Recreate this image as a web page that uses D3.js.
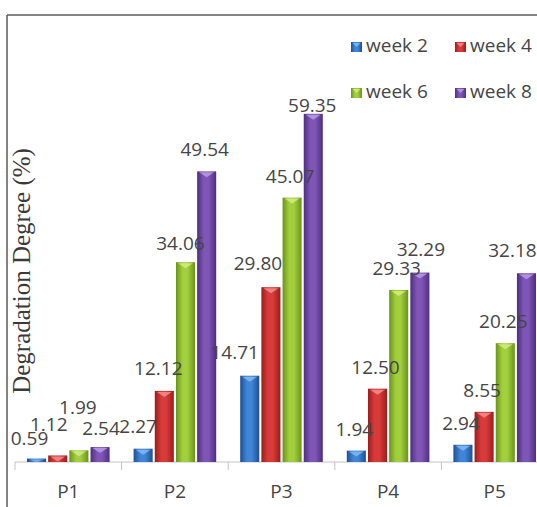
<!DOCTYPE html>
<html>
<head>
<meta charset="utf-8">
<script src="https://cdn.jsdelivr.net/npm/d3@7/dist/d3.min.js"></script>
<style>
  html, body { margin: 0; padding: 0; background: #fff; }
  svg { display: block; }
</style>
</head>
<body>
<svg id="chart" width="537" height="507"></svg>
<script>
// Degradation degree per sample, by week
const categories = ["P1", "P2", "P3", "P4", "P5"];
const seriesNames = ["week 2", "week 4", "week 6", "week 8"];
const week2 = [0.59, 2.27, 14.71, 1.94, 2.94];
const week4 = [1.12, 12.12, 29.80, 12.50, 8.55];
const week6 = [1.99, 34.06, 45.07, 29.33, 20.25];
const week8 = [2.54, 49.54, 59.35, 32.29, 32.18];
const seriesValues = [week2, week4, week6, week8];
const yTitle = "Degradation Degree (%)";

// bar shading: [edge, centre, bevel]
const palette = [
  ["#1e4f96", "#3f86d6", "#8fc0f2"],
  ["#9c1c1c", "#d83c3a", "#f59a9a"],
  ["#6a9418", "#a2cf3e", "#d9f08f"],
  ["#4e2f80", "#7f55b6", "#c2a6ea"]
];

const svg = d3.select("#chart");
const W = 537, H = 507;
const font = "'Open Sans', sans-serif";
const textColor = "#454545";

const x0 = d3.scaleBand().domain(categories).range([15, 548]).paddingInner(0).paddingOuter(0);
const x1 = d3.scaleBand().domain(seriesNames).range([12, x0.bandwidth() - 12]).paddingInner(0.1);
const y = d3.scaleLinear().domain([0, 60]).range([462, 110]);

// gradients
const defs = svg.append("defs");
palette.forEach((c, i) => {
  const g = defs.append("linearGradient").attr("id", "grad" + i)
    .attr("x1", "0%").attr("x2", "100%").attr("y1", "0%").attr("y2", "0%");
  g.append("stop").attr("offset", "0%").attr("stop-color", c[0]);
  g.append("stop").attr("offset", "35%").attr("stop-color", c[1]);
  g.append("stop").attr("offset", "60%").attr("stop-color", c[1]);
  g.append("stop").attr("offset", "100%").attr("stop-color", c[0]);
});

// frame
svg.append("line").attr("x1", 7).attr("x2", 7).attr("y1", 15).attr("y2", H)
  .attr("stroke", "#5a5a5a").attr("stroke-width", 1.5);
svg.append("line").attr("x1", 7).attr("x2", W).attr("y1", 15).attr("y2", 15)
  .attr("stroke", "#5a5a5a").attr("stroke-width", 1.5);

// category axis
const xAxis = d3.axisBottom(x0).tickSize(0).tickPadding(0);
const axisG = svg.append("g").attr("transform", `translate(0,${y(0)})`).call(xAxis);
axisG.select(".domain").remove();
axisG.selectAll(".tick text").remove();
axisG.append("line").attr("x1", x0.range()[0]).attr("x2", W).attr("y1", 0).attr("y2", 0)
  .attr("stroke", "#c4c4c4").attr("stroke-width", 1);
const edges = categories.map(c => x0(c)).concat([x0.range()[1]]);
axisG.selectAll(".edge").data(edges).enter().append("line")
  .attr("class", "edge")
  .attr("x1", d => d).attr("x2", d => d).attr("y1", 0).attr("y2", 8)
  .attr("stroke", "#c4c4c4").attr("stroke-width", 1);
svg.append("g").selectAll("text").data(categories).enter().append("text")
  .attr("x", d => x0(d) + x0.bandwidth() / 2)
  .attr("y", 498)
  .attr("text-anchor", "middle")
  .attr("font-family", font).attr("font-size", 19)
  .attr("fill", textColor)
  .text(d => d);

// bars
const barData = [];
categories.forEach((c, ci) => {
  seriesNames.forEach((s, si) => {
    barData.push({ cat: c, series: s, si: si, value: seriesValues[si][ci] });
  });
});

const bars = svg.append("g");
barData.forEach(d => {
  const bx = x0(d.cat) + x1(d.series);
  const bw = x1.bandwidth();
  const top = y(d.value);
  const h = y(0) - top;
  const g = bars.append("g");
  g.append("rect").attr("x", bx).attr("y", top).attr("width", bw).attr("height", h)
    .attr("fill", `url(#grad${d.si})`);
  const bev = Math.min(6, h);
  g.append("path")
    .attr("d", `M${bx + 2},${top + 1} L${bx + bw - 2},${top + 1} L${bx + bw / 2},${top + bev} Z`)
    .attr("fill", palette[d.si][2]).attr("opacity", 0.75);
});

// value labels (nudged where neighbours would collide)
const labelNudge = {
  "P1|week 2": [-5, -1], "P1|week 4": [-7, 9], "P1|week 6": [1, 21], "P1|week 8": [3, -3],
  "P2|week 2": [-3, 1], "P2|week 4": [-4, 1], "P2|week 6": [-3, -3],
  "P3|week 2": [-13, 2], "P3|week 4": [-11, 2], "P3|week 8": [1, -13],
  "P4|week 8": [3, 2],
  "P5|week 8": [-12, 1]
};
svg.append("g").selectAll("text").data(barData).enter().append("text")
  .attr("x", d => {
    const n = labelNudge[d.cat + "|" + d.series] || [0, 0];
    return x0(d.cat) + x1(d.series) + x1.bandwidth() / 2 - 2 + n[0];
  })
  .attr("y", d => {
    const n = labelNudge[d.cat + "|" + d.series] || [0, 0];
    return y(d.value) - 15 - n[1];
  })
  .attr("text-anchor", "middle")
  .attr("font-family", font).attr("font-size", 19)
  .attr("fill", textColor)
  .text(d => d.value.toFixed(2));

// legend
const legendCols = [351, 455];
const legendRows = [52, 98];
const legend = svg.append("g");
seriesNames.forEach((s, i) => {
  const lx = legendCols[i % 2];
  const ly = legendRows[Math.floor(i / 2)];
  legend.append("rect").attr("x", lx).attr("y", ly - 10).attr("width", 11).attr("height", 10)
    .attr("fill", `url(#grad${i})`);
  legend.append("path")
    .attr("d", `M${lx + 1.5},${ly - 9} L${lx + 9.5},${ly - 9} L${lx + 5.5},${ly - 5} Z`)
    .attr("fill", palette[i][2]).attr("opacity", 0.75);
  legend.append("text").attr("x", lx + 15).attr("y", ly)
    .attr("font-family", font).attr("font-size", 19)
    .attr("fill", textColor).text(s);
});

// y-axis title
svg.append("text")
  .attr("transform", "translate(30,271) rotate(-90)")
  .attr("text-anchor", "middle")
  .attr("font-family", "'Liberation Serif', 'Times New Roman', serif")
  .attr("font-size", 25)
  .attr("fill", "#3a3a3a")
  .text(yTitle);
</script>
</body>
</html>
